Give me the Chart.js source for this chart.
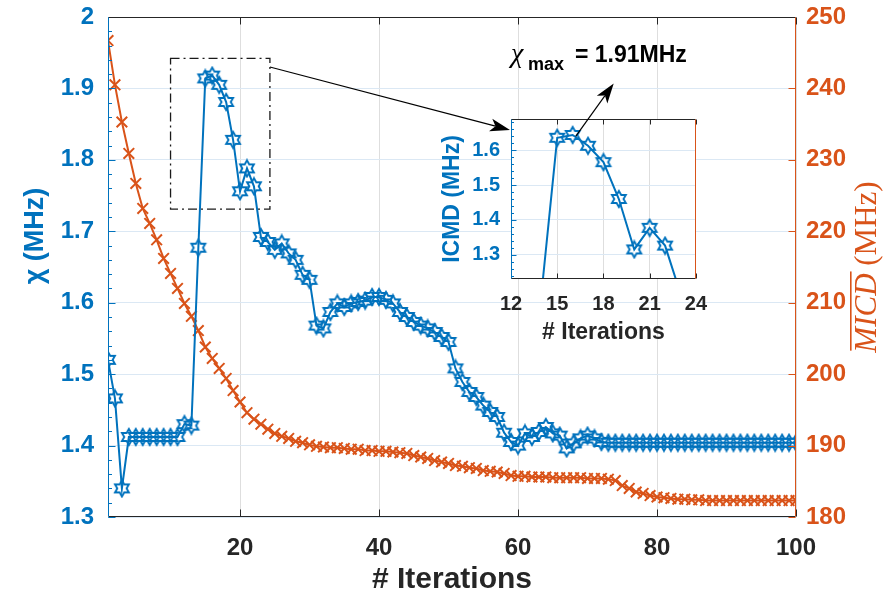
<!DOCTYPE html>
<html>
<head>
<meta charset="utf-8">
<script src="https://cdn.jsdelivr.net/npm/chart.js@4"></script>
<style>
  body { margin: 0; background: #fff; }
  #wrap { position: relative; width: 888px; height: 604px; }
  #main { position: absolute; left: 0; top: 0; }
  #inset { position: absolute; left: 420px; top: 70px; }
</style>
</head>
<body>
<div id="wrap">
  <canvas id="main" width="888" height="604"></canvas>
  <canvas id="inset" width="300" height="280"></canvas>
</div>
<script>
// ---------------- data ----------------
const iterations = Array.from({ length: 100 }, (_, i) => i + 1);

const chiValues = [
  1.520, 1.466, 1.340, 1.412, 1.412, 1.412, 1.412, 1.412, 1.412, 1.412,
  1.412, 1.430, 1.428, 1.677, 1.914, 1.918, 1.905, 1.881, 1.828, 1.756,
  1.788, 1.763, 1.692, 1.685, 1.674, 1.683, 1.669, 1.660, 1.639, 1.632,
  1.568, 1.564, 1.587, 1.599, 1.594, 1.599, 1.601, 1.603, 1.608, 1.608,
  1.604, 1.599, 1.587, 1.580, 1.573, 1.568, 1.564, 1.559, 1.552, 1.545,
  1.508, 1.489, 1.475, 1.468, 1.456, 1.447, 1.440, 1.418, 1.405, 1.400,
  1.417, 1.412, 1.419, 1.426, 1.417, 1.414, 1.396, 1.403, 1.410, 1.414,
  1.410, 1.405, 1.404, 1.404, 1.404, 1.404, 1.404, 1.404, 1.404, 1.404,
  1.404, 1.404, 1.404, 1.404, 1.404, 1.404, 1.404, 1.404, 1.404, 1.404,
  1.404, 1.404, 1.404, 1.404, 1.404, 1.404, 1.404, 1.404, 1.404, 1.404
];

const micdValues = [
  246.7, 240.5, 235.3, 230.9, 226.7, 223.2, 221.1, 218.8, 216.2, 214.1,
  212.0, 209.9, 208.1, 206.1, 203.8, 202.2, 200.8, 199.4, 197.7, 196.1,
  194.6, 193.7, 193.0, 192.3, 191.7, 191.3, 191.0, 190.6, 190.4, 190.1,
  189.9, 189.8, 189.7, 189.7, 189.6, 189.5, 189.5, 189.3, 189.3, 189.2,
  189.2, 189.1, 189.0, 188.9, 188.6, 188.4, 188.2, 187.9, 187.7, 187.5,
  187.2, 187.1, 186.9, 186.8, 186.5, 186.4, 186.3, 186.1, 185.8, 185.7,
  185.7, 185.6, 185.6, 185.6, 185.5, 185.5, 185.5, 185.5, 185.5, 185.4,
  185.4, 185.4, 185.3, 185.1, 184.4, 184.0, 183.5, 183.3, 183.0, 182.8,
  182.7, 182.6, 182.5, 182.5, 182.4, 182.4, 182.3, 182.3, 182.3, 182.3,
  182.3, 182.3, 182.3, 182.3, 182.3, 182.3, 182.3, 182.3, 182.3, 182.3
];

const insetIter = [14, 15, 16, 17, 18, 19, 20, 21, 22, 23];
const icmdValues = [1.198, 1.636, 1.644, 1.613, 1.566, 1.460, 1.315, 1.377, 1.326, 1.188];

const xTicks = [20, 40, 60, 80, 100];
const chiTicks = [1.3, 1.4, 1.5, 1.6, 1.7, 1.8, 1.9, 2.0];
const micdTicks = [180, 190, 200, 210, 220, 230, 240, 250];
const insetXTicks = [12, 15, 18, 21, 24];
const insetYTicks = [1.3, 1.4, 1.5, 1.6];

// ---------------- style ----------------
const BLUE = '#0072BD';
const ORANGE = '#D95319';
const INK = '#262626';
const SANS = 'Liberation Sans';
const SERIF = 'Liberation Serif';

// inset plot box on the page (canvas offset + axis sizes)
const INSET_LEFT = 420 + 91;
const INSET_TOP = 70 + 49;

// hexagram marker, outline only
function hexagram(color, r) {
  const s = Math.ceil(2 * r + 4);
  const c = document.createElement('canvas');
  c.width = s; c.height = s;
  const g = c.getContext('2d');
  g.strokeStyle = color;
  g.lineWidth = 1.9;
  g.beginPath();
  for (let k = 0; k < 12; k++) {
    const a = -Math.PI / 2 + k * Math.PI / 6;
    const rr = k % 2 ? r / Math.sqrt(3) : r;
    const px = s / 2 + rr * Math.cos(a), py = s / 2 + rr * Math.sin(a);
    if (k) g.lineTo(px, py); else g.moveTo(px, py);
  }
  g.closePath();
  g.stroke();
  return c;
}
const star = hexagram(BLUE, 8);

function minorSteps(from, to, step) {
  const out = [];
  for (let v = from; v <= to + 1e-9; v += step) out.push(+v.toFixed(3));
  return out;
}

function arrow(ctx, x0, y0, x1, y1) {
  const ang = Math.atan2(y1 - y0, x1 - x0);
  const L = 20, W = 6.5, N = 5;
  ctx.beginPath();
  ctx.moveTo(x0, y0);
  ctx.lineTo(x1 - (L - N) * Math.cos(ang), y1 - (L - N) * Math.sin(ang));
  ctx.stroke();
  ctx.save();
  ctx.translate(x1, y1);
  ctx.rotate(ang);
  ctx.beginPath();
  ctx.moveTo(0, 0);
  ctx.lineTo(-L, -W);
  ctx.lineTo(-L + N, 0);
  ctx.lineTo(-L, W);
  ctx.closePath();
  ctx.fill();
  ctx.restore();
}

// box lines + inward tick marks, matlab style
const axesFrame = {
  id: 'axesFrame',
  afterDatasetsDraw(chart, args, o) {
    const { ctx, chartArea: a, scales } = chart;
    const L = Math.round(a.left) + 0.5, R = Math.round(a.right) - 0.5;
    const T = Math.round(a.top) + 0.5, B = Math.round(a.bottom) - 0.5;
    const seg = (x0, y0, x1, y1, c) => {
      ctx.strokeStyle = c;
      ctx.beginPath(); ctx.moveTo(x0, y0); ctx.lineTo(x1, y1); ctx.stroke();
    };
    ctx.save();
    ctx.lineWidth = 1;
    scales.x.ticks.forEach(t => {
      const px = Math.round(scales.x.getPixelForValue(t.value)) + 0.5;
      seg(px, B, px, B - o.major, INK);
      seg(px, T, px, T + o.major, INK);
    });
    scales.y.ticks.forEach(t => {
      const py = Math.round(scales.y.getPixelForValue(t.value)) + 0.5;
      seg(L, py, L + o.major, py, o.left);
    });
    o.minor.forEach(v => {
      const py = Math.round(scales.y.getPixelForValue(v)) + 0.5;
      seg(L, py, L + o.major / 2, py, o.left);
    });
    if (scales.y1) {
      scales.y1.ticks.forEach(t => {
        const py = Math.round(scales.y1.getPixelForValue(t.value)) + 0.5;
        seg(R, py, R - o.major, py, o.right);
      });
    }
    seg(L, B, R, B, INK);
    seg(L, T, R, T, INK);
    seg(L, T, L, B, o.left);
    seg(R, T, R, B, o.right);
    ctx.restore();
  }
};

// inset plot keeps a white face over the main grid
const whiteFace = {
  id: 'whiteFace',
  beforeDraw(chart) {
    const { ctx, chartArea: a } = chart;
    ctx.save();
    ctx.fillStyle = '#fff';
    ctx.fillRect(a.left, a.top, a.right - a.left, a.bottom - a.top);
    ctx.restore();
  }
};

// zoom box, pointer, peak note and both axis titles
const mainNotes = {
  id: 'mainNotes',
  afterDraw(chart) {
    const { ctx, scales: { x, y } } = chart;
    ctx.save();
    const bx0 = x.getPixelForValue(10), bx1 = x.getPixelForValue(24.3);
    const by0 = y.getPixelForValue(1.942), by1 = y.getPixelForValue(1.731);
    ctx.strokeStyle = '#1a1a1a';
    ctx.lineWidth = 1.3;
    ctx.setLineDash([9, 4, 2, 4]);
    ctx.strokeRect(bx0, by0, bx1 - bx0, by1 - by0);
    ctx.setLineDash([]);

    ctx.fillStyle = '#000';
    ctx.strokeStyle = '#000';
    ctx.lineWidth = 1.2;
    arrow(ctx, bx1, y.getPixelForValue(1.93), INSET_LEFT - 1, INSET_TOP + 11);

    ctx.textBaseline = 'alphabetic';
    ctx.textAlign = 'left';
    ctx.font = `italic 28px "${SERIF}"`;
    ctx.fillText('χ', 511, 62);
    ctx.font = `bold 18px "${SANS}"`;
    ctx.fillText('max', 528, 70);
    ctx.font = `bold 23px "${SANS}"`;
    ctx.fillText('= 1.91MHz', 575, 62);
    ctx.restore();

    // left axis title
    ctx.save();
    ctx.translate(36, 236);
    ctx.rotate(-Math.PI / 2);
    ctx.fillStyle = BLUE;
    ctx.textAlign = 'center';
    ctx.textBaseline = 'middle';
    ctx.font = `bold 27px "${SANS}"`;
    ctx.fillText('χ (MHz)', 0, 0);
    ctx.restore();

    // right axis title with overline on MICD
    const a = chart.chartArea;
    ctx.save();
    ctx.translate(866, (a.top + a.bottom) / 2);
    ctx.rotate(-Math.PI / 2);
    ctx.fillStyle = ORANGE;
    ctx.textAlign = 'left';
    ctx.textBaseline = 'alphabetic';
    const fIt = `italic 31px "${SERIF}"`, fUp = `31px "${SERIF}"`;
    ctx.font = fIt;
    const w1 = ctx.measureText('MICD').width;
    ctx.font = fUp;
    const w2 = ctx.measureText(' (MHz)').width;
    const x0 = -(w1 + w2) / 2;
    ctx.font = fIt;
    ctx.fillText('MICD', x0, 10);
    ctx.font = fUp;
    ctx.fillText(' (MHz)', x0 + w1, 10);
    ctx.fillRect(x0 + 2, -16, w1, 1.6);
    ctx.restore();
  }
};

const insetNotes = {
  id: 'insetNotes',
  afterDraw(chart) {
    const { ctx, scales: { x, y } } = chart;
    const sx = x.getPixelForValue(16.2), sy = y.getPixelForValue(1.64);
    ctx.save();
    ctx.fillStyle = '#000';
    ctx.strokeStyle = '#000';
    ctx.lineWidth = 1.2;
    arrow(ctx, sx, sy, sx + 38, sy - 53);
    ctx.restore();
  }
};

const fixTicks = list => scale => { scale.ticks = list.map(v => ({ value: v })); };
const fmt = v => String(Math.round(v * 100) / 100);
// fixed axis width, and no extra room asked for the end labels
const fixWidth = w => s => { s.width = w; s.paddingTop = 0; s.paddingBottom = 0; };

// ---------------- main chart ----------------
new Chart(document.getElementById('main'), {
  type: 'line',
  data: {
    datasets: [
      {
        data: chiValues.map((v, i) => ({ x: iterations[i], y: v })),
        yAxisID: 'y',
        borderColor: BLUE,
        borderWidth: 2,
        pointStyle: star,
        pointRadius: 7
      },
      {
        data: micdValues.map((v, i) => ({ x: iterations[i], y: v })),
        yAxisID: 'y1',
        borderColor: ORANGE,
        borderWidth: 2,
        pointStyle: 'crossRot',
        pointRadius: 7.5,
        pointBorderWidth: 2,
        pointBorderColor: ORANGE
      }
    ]
  },
  options: {
    responsive: false,
    animation: false,
    devicePixelRatio: 1,
    events: [],
    layout: { padding: { top: 17 } },
    plugins: {
      legend: { display: false },
      tooltip: { enabled: false },
      axesFrame: { major: 7, left: BLUE, right: ORANGE, minor: minorSteps(1.3, 2.0, 0.02) }
    },
    scales: {
      x: {
        type: 'linear', min: 1, max: 100,
        afterBuildTicks: fixTicks(xTicks),
        afterFit: s => { s.height = 87; },
        grid: { color: '#dedede', drawTicks: false },
        border: { display: false },
        ticks: { color: INK, padding: 17, maxRotation: 0, font: { family: SANS, size: 24, weight: 'bold' } },
        title: { display: true, text: '# Iterations', color: INK, padding: { top: 0, bottom: 6 },
          font: { family: SANS, size: 30, weight: 'bold' } }
      },
      y: {
        position: 'left', min: 1.3, max: 2.0,
        afterBuildTicks: fixTicks(chiTicks),
        afterFit: fixWidth(108),
        grid: { color: '#dbe8f4', drawTicks: false },
        border: { display: false },
        ticks: { color: BLUE, padding: 14, callback: fmt, font: { family: SANS, size: 24, weight: 'bold' } }
      },
      y1: {
        position: 'right', min: 180, max: 250,
        afterBuildTicks: fixTicks(micdTicks),
        afterFit: fixWidth(92),
        grid: { display: false, drawTicks: false },
        border: { display: false },
        ticks: { color: ORANGE, padding: 10, callback: fmt, font: { family: SANS, size: 24, weight: 'bold' } }
      }
    }
  },
  plugins: [axesFrame, mainNotes]
});

// ---------------- inset ----------------
new Chart(document.getElementById('inset'), {
  type: 'line',
  data: {
    datasets: [{
      data: insetIter.map((v, i) => ({ x: v, y: icmdValues[i] })),
      borderColor: BLUE,
      borderWidth: 2,
      pointStyle: star,
      pointRadius: 7
    }]
  },
  options: {
    responsive: false,
    animation: false,
    devicePixelRatio: 1,
    events: [],
    layout: { padding: { top: 49, right: 14 } },
    plugins: {
      legend: { display: false },
      tooltip: { enabled: false },
      axesFrame: { major: 5, left: BLUE, right: ORANGE, minor: minorSteps(1.24, 1.68, 0.02) }
    },
    scales: {
      x: {
        type: 'linear', min: 12, max: 24,
        afterBuildTicks: fixTicks(insetXTicks),
        afterFit: s => { s.height = 71; },
        grid: { color: '#dedede', drawTicks: false },
        border: { display: false },
        ticks: { color: INK, padding: 13, maxRotation: 0, font: { family: SANS, size: 20, weight: 'bold' } },
        title: { display: true, text: '# Iterations', color: INK, padding: { top: 0, bottom: 4 },
          font: { family: SANS, size: 23, weight: 'bold' } }
      },
      y: {
        min: 1.23, max: 1.69,
        afterBuildTicks: fixTicks(insetYTicks),
        afterFit: fixWidth(91),
        grid: { color: '#dbe8f4', drawTicks: false },
        border: { display: false },
        ticks: { color: BLUE, padding: 11, callback: fmt, font: { family: SANS, size: 20, weight: 'bold' } },
        title: { display: true, text: 'ICMD (MHz)', color: BLUE, padding: { top: 19, bottom: 0 },
          font: { family: SANS, size: 23, weight: 'bold' } }
      }
    }
  },
  plugins: [whiteFace, axesFrame, insetNotes]
});
</script>
</body>
</html>
